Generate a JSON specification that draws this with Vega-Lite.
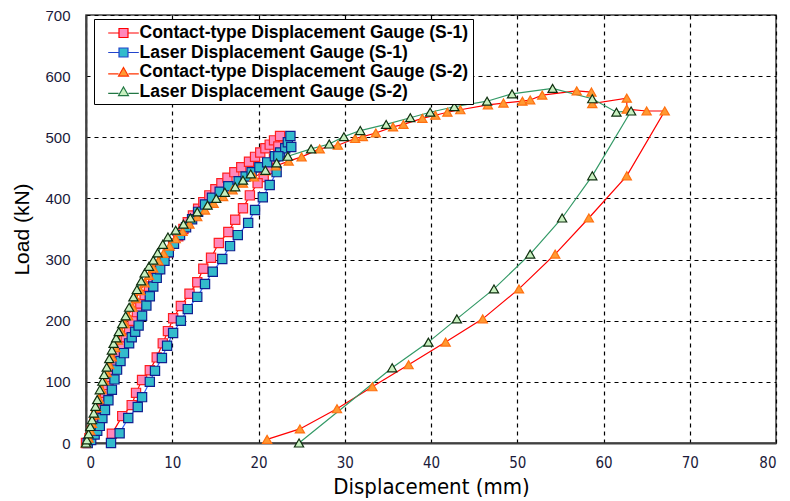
{
  "$schema": "https://vega.github.io/schema/vega-lite/v6.json",
  "width": 690,
  "height": 428,
  "autosize": {"type": "none"},
  "padding": {"left": 86, "top": 15, "right": 14, "bottom": 58},
  "background": "white",
  "config": {
    "view": {"stroke": "#404040", "strokeWidth": 1.5},
    "axis": {
      "grid": true,
      "gridColor": "black",
      "gridDash": [4, 4],
      "gridWidth": 1.2,
      "ticks": false,
      "domainColor": "#404040",
      "domainWidth": 2,
      "labelColor": "#1a1a3a",
      "titleColor": "black",
      "titleFontWeight": "normal"
    }
  },
  "datasets": {
    "curves": [
      {"s":"S1C","i":0,"x":0,"y":0},{"s":"S1C","i":1,"x":0.4,"y":8},{"s":"S1C","i":2,"x":0.7,"y":20},{"s":"S1C","i":3,"x":1.0,"y":33},{"s":"S1C","i":4,"x":1.3,"y":46},{"s":"S1C","i":5,"x":1.6,"y":58},{"s":"S1C","i":6,"x":1.9,"y":70},{"s":"S1C","i":7,"x":2.2,"y":82},{"s":"S1C","i":8,"x":2.5,"y":95},{"s":"S1C","i":9,"x":2.8,"y":108},{"s":"S1C","i":10,"x":3.1,"y":120},{"s":"S1C","i":11,"x":3.5,"y":134},{"s":"S1C","i":12,"x":3.8,"y":147},{"s":"S1C","i":13,"x":4.2,"y":160},{"s":"S1C","i":14,"x":4.6,"y":173},{"s":"S1C","i":15,"x":5.0,"y":186},{"s":"S1C","i":16,"x":5.4,"y":200},{"s":"S1C","i":17,"x":5.9,"y":214},{"s":"S1C","i":18,"x":6.3,"y":228},{"s":"S1C","i":19,"x":6.8,"y":242},{"s":"S1C","i":20,"x":7.3,"y":256},{"s":"S1C","i":21,"x":7.8,"y":270},{"s":"S1C","i":22,"x":8.3,"y":284},{"s":"S1C","i":23,"x":8.9,"y":298},{"s":"S1C","i":24,"x":9.5,"y":312},{"s":"S1C","i":25,"x":10.1,"y":326},{"s":"S1C","i":26,"x":10.7,"y":338},{"s":"S1C","i":27,"x":11.3,"y":350},{"s":"S1C","i":28,"x":11.8,"y":361},{"s":"S1C","i":29,"x":12.4,"y":372},{"s":"S1C","i":30,"x":13.0,"y":383},{"s":"S1C","i":31,"x":13.6,"y":394},{"s":"S1C","i":32,"x":14.3,"y":405},{"s":"S1C","i":33,"x":15.0,"y":415},{"s":"S1C","i":34,"x":15.7,"y":425},{"s":"S1C","i":35,"x":16.4,"y":434},{"s":"S1C","i":36,"x":17.2,"y":443},{"s":"S1C","i":37,"x":18.0,"y":451},{"s":"S1C","i":38,"x":18.9,"y":460},{"s":"S1C","i":39,"x":19.6,"y":468},{"s":"S1C","i":40,"x":20.2,"y":475},{"s":"S1C","i":41,"x":20.8,"y":482},{"s":"S1C","i":42,"x":21.3,"y":488},{"s":"S1C","i":43,"x":21.8,"y":495},{"s":"S1C","i":44,"x":22.5,"y":502},{"s":"S1C","i":45,"x":22.3,"y":485},{"s":"S1C","i":46,"x":21.8,"y":465},{"s":"S1C","i":47,"x":21.2,"y":448},{"s":"S1C","i":48,"x":20.6,"y":435},{"s":"S1C","i":49,"x":19.9,"y":425},{"s":"S1C","i":50,"x":19.0,"y":405},{"s":"S1C","i":51,"x":18.2,"y":384},{"s":"S1C","i":52,"x":17.3,"y":365},{"s":"S1C","i":53,"x":16.5,"y":345},{"s":"S1C","i":54,"x":15.4,"y":327},{"s":"S1C","i":55,"x":14.5,"y":303},{"s":"S1C","i":56,"x":13.6,"y":285},{"s":"S1C","i":57,"x":12.9,"y":263},{"s":"S1C","i":58,"x":12.0,"y":244},{"s":"S1C","i":59,"x":11.0,"y":224},{"s":"S1C","i":60,"x":10.1,"y":204},{"s":"S1C","i":61,"x":9.5,"y":183},{"s":"S1C","i":62,"x":8.9,"y":163},{"s":"S1C","i":63,"x":8.2,"y":140},{"s":"S1C","i":64,"x":7.4,"y":119},{"s":"S1C","i":65,"x":6.5,"y":103},{"s":"S1C","i":66,"x":5.8,"y":82},{"s":"S1C","i":67,"x":5.3,"y":62},{"s":"S1C","i":68,"x":4.2,"y":44},{"s":"S1C","i":69,"x":3.0,"y":15},

      {"s":"S1L","i":0,"x":0.2,"y":0},{"s":"S1L","i":1,"x":0.6,"y":5},{"s":"S1L","i":2,"x":1.0,"y":14},{"s":"S1L","i":3,"x":1.3,"y":20},{"s":"S1L","i":4,"x":1.6,"y":28},{"s":"S1L","i":5,"x":1.9,"y":41},{"s":"S1L","i":6,"x":2.2,"y":54},{"s":"S1L","i":7,"x":2.6,"y":70},{"s":"S1L","i":8,"x":3.0,"y":87},{"s":"S1L","i":9,"x":3.3,"y":104},{"s":"S1L","i":10,"x":3.6,"y":120},{"s":"S1L","i":11,"x":4.0,"y":134},{"s":"S1L","i":12,"x":4.4,"y":147},{"s":"S1L","i":13,"x":5.0,"y":163},{"s":"S1L","i":14,"x":5.3,"y":173},{"s":"S1L","i":15,"x":5.7,"y":182},{"s":"S1L","i":16,"x":6.1,"y":192},{"s":"S1L","i":17,"x":6.5,"y":208},{"s":"S1L","i":18,"x":7.0,"y":225},{"s":"S1L","i":19,"x":7.4,"y":240},{"s":"S1L","i":20,"x":7.8,"y":256},{"s":"S1L","i":21,"x":8.2,"y":270},{"s":"S1L","i":22,"x":8.6,"y":284},{"s":"S1L","i":23,"x":9.1,"y":298},{"s":"S1L","i":24,"x":9.6,"y":312},{"s":"S1L","i":25,"x":10.2,"y":326},{"s":"S1L","i":26,"x":10.9,"y":340},{"s":"S1L","i":27,"x":11.6,"y":353},{"s":"S1L","i":28,"x":12.3,"y":366},{"s":"S1L","i":29,"x":13.0,"y":378},{"s":"S1L","i":30,"x":13.8,"y":390},{"s":"S1L","i":31,"x":14.6,"y":401},{"s":"S1L","i":32,"x":15.5,"y":411},{"s":"S1L","i":33,"x":16.5,"y":420},{"s":"S1L","i":34,"x":17.7,"y":428},{"s":"S1L","i":35,"x":18.5,"y":436},{"s":"S1L","i":36,"x":19.2,"y":443},{"s":"S1L","i":37,"x":20.1,"y":451},{"s":"S1L","i":38,"x":21.0,"y":459},{"s":"S1L","i":39,"x":21.9,"y":469},{"s":"S1L","i":40,"x":22.5,"y":475},{"s":"S1L","i":41,"x":23.1,"y":482},{"s":"S1L","i":42,"x":23.4,"y":492},{"s":"S1L","i":43,"x":23.7,"y":502},{"s":"S1L","i":44,"x":23.8,"y":484},{"s":"S1L","i":45,"x":22.3,"y":469},{"s":"S1L","i":46,"x":22.1,"y":443},{"s":"S1L","i":47,"x":21.3,"y":422},{"s":"S1L","i":48,"x":20.5,"y":402},{"s":"S1L","i":49,"x":19.6,"y":381},{"s":"S1L","i":50,"x":18.8,"y":360},{"s":"S1L","i":51,"x":17.6,"y":340},{"s":"S1L","i":52,"x":16.7,"y":322},{"s":"S1L","i":53,"x":15.8,"y":301},{"s":"S1L","i":54,"x":14.7,"y":280},{"s":"S1L","i":55,"x":13.8,"y":260},{"s":"S1L","i":56,"x":12.9,"y":239},{"s":"S1L","i":57,"x":11.8,"y":219},{"s":"S1L","i":58,"x":11.0,"y":200},{"s":"S1L","i":59,"x":10.1,"y":180},{"s":"S1L","i":60,"x":9.4,"y":159},{"s":"S1L","i":61,"x":8.8,"y":139},{"s":"S1L","i":62,"x":8.0,"y":118},{"s":"S1L","i":63,"x":7.4,"y":100},{"s":"S1L","i":64,"x":6.5,"y":75},{"s":"S1L","i":65,"x":6.0,"y":59},{"s":"S1L","i":66,"x":4.9,"y":41},{"s":"S1L","i":67,"x":3.9,"y":16},{"s":"S1L","i":68,"x":2.9,"y":0},

      {"s":"S2C","i":0,"x":0,"y":0},{"s":"S2C","i":1,"x":0.3,"y":8},{"s":"S2C","i":2,"x":0.5,"y":20},{"s":"S2C","i":3,"x":0.7,"y":32},{"s":"S2C","i":4,"x":1.0,"y":46},{"s":"S2C","i":5,"x":1.2,"y":58},{"s":"S2C","i":6,"x":1.5,"y":72},{"s":"S2C","i":7,"x":1.8,"y":88},{"s":"S2C","i":8,"x":2.1,"y":102},{"s":"S2C","i":9,"x":2.4,"y":115},{"s":"S2C","i":10,"x":2.7,"y":128},{"s":"S2C","i":11,"x":3.0,"y":141},{"s":"S2C","i":12,"x":3.4,"y":156},{"s":"S2C","i":13,"x":3.7,"y":168},{"s":"S2C","i":14,"x":4.1,"y":182},{"s":"S2C","i":15,"x":4.5,"y":195},{"s":"S2C","i":16,"x":4.9,"y":208},{"s":"S2C","i":17,"x":5.4,"y":222},{"s":"S2C","i":18,"x":5.8,"y":236},{"s":"S2C","i":19,"x":6.3,"y":249},{"s":"S2C","i":20,"x":6.8,"y":262},{"s":"S2C","i":21,"x":7.3,"y":274},{"s":"S2C","i":22,"x":7.8,"y":286},{"s":"S2C","i":23,"x":8.4,"y":298},{"s":"S2C","i":24,"x":9.0,"y":310},{"s":"S2C","i":25,"x":9.7,"y":322},{"s":"S2C","i":26,"x":10.4,"y":334},{"s":"S2C","i":27,"x":11.2,"y":346},{"s":"S2C","i":28,"x":12.0,"y":358},{"s":"S2C","i":29,"x":12.9,"y":370},{"s":"S2C","i":30,"x":13.8,"y":381},{"s":"S2C","i":31,"x":14.8,"y":392},{"s":"S2C","i":32,"x":15.9,"y":403},{"s":"S2C","i":33,"x":17.0,"y":414},{"s":"S2C","i":34,"x":18.2,"y":425},{"s":"S2C","i":35,"x":19.5,"y":435},{"s":"S2C","i":36,"x":20.8,"y":445},{"s":"S2C","i":37,"x":22.0,"y":453},{"s":"S2C","i":38,"x":23.5,"y":461},{"s":"S2C","i":39,"x":25.0,"y":468},{"s":"S2C","i":40,"x":27.1,"y":481},{"s":"S2C","i":41,"x":29.2,"y":487},{"s":"S2C","i":42,"x":31.2,"y":498},{"s":"S2C","i":43,"x":32.1,"y":501},{"s":"S2C","i":44,"x":33.6,"y":507},{"s":"S2C","i":45,"x":35.6,"y":517},{"s":"S2C","i":46,"x":36.8,"y":521},{"s":"S2C","i":47,"x":39.0,"y":531},{"s":"S2C","i":48,"x":40.5,"y":536},{"s":"S2C","i":49,"x":41.9,"y":541},{"s":"S2C","i":50,"x":43.4,"y":545},{"s":"S2C","i":51,"x":46.6,"y":553},{"s":"S2C","i":52,"x":48.4,"y":556},{"s":"S2C","i":53,"x":50.6,"y":559},{"s":"S2C","i":54,"x":51.5,"y":561},{"s":"S2C","i":55,"x":52.9,"y":569},{"s":"S2C","i":56,"x":56.9,"y":576},{"s":"S2C","i":57,"x":58.6,"y":574},{"s":"S2C","i":58,"x":58.7,"y":555},{"s":"S2C","i":59,"x":62.7,"y":564},{"s":"S2C","i":60,"x":62.7,"y":546},{"s":"S2C","i":61,"x":65.0,"y":543},{"s":"S2C","i":62,"x":67.1,"y":543},{"s":"S2C","i":63,"x":62.7,"y":437},{"s":"S2C","i":64,"x":58.3,"y":368},{"s":"S2C","i":65,"x":54.4,"y":309},{"s":"S2C","i":66,"x":50.2,"y":252},{"s":"S2C","i":67,"x":46.0,"y":203},{"s":"S2C","i":68,"x":41.7,"y":165},{"s":"S2C","i":69,"x":37.4,"y":128},{"s":"S2C","i":70,"x":33.2,"y":92},{"s":"S2C","i":71,"x":29.1,"y":56},{"s":"S2C","i":72,"x":24.8,"y":23},{"s":"S2C","i":73,"x":21.0,"y":6},

      {"s":"S2L","i":0,"x":0,"y":0},{"s":"S2L","i":1,"x":0.1,"y":5},{"s":"S2L","i":2,"x":0.3,"y":15},{"s":"S2L","i":3,"x":0.5,"y":27},{"s":"S2L","i":4,"x":0.7,"y":38},{"s":"S2L","i":5,"x":0.9,"y":49},{"s":"S2L","i":6,"x":1.1,"y":60},{"s":"S2L","i":7,"x":1.3,"y":71},{"s":"S2L","i":8,"x":1.6,"y":87},{"s":"S2L","i":9,"x":1.9,"y":101},{"s":"S2L","i":10,"x":2.1,"y":112},{"s":"S2L","i":11,"x":2.4,"y":124},{"s":"S2L","i":12,"x":2.7,"y":138},{"s":"S2L","i":13,"x":3.0,"y":152},{"s":"S2L","i":14,"x":3.2,"y":163},{"s":"S2L","i":15,"x":3.5,"y":172},{"s":"S2L","i":16,"x":3.8,"y":182},{"s":"S2L","i":17,"x":4.2,"y":195},{"s":"S2L","i":18,"x":4.6,"y":208},{"s":"S2L","i":19,"x":5.0,"y":222},{"s":"S2L","i":20,"x":5.5,"y":239},{"s":"S2L","i":21,"x":5.9,"y":251},{"s":"S2L","i":22,"x":6.4,"y":265},{"s":"S2L","i":23,"x":6.8,"y":278},{"s":"S2L","i":24,"x":7.3,"y":289},{"s":"S2L","i":25,"x":7.8,"y":299},{"s":"S2L","i":26,"x":8.3,"y":311},{"s":"S2L","i":27,"x":8.9,"y":325},{"s":"S2L","i":28,"x":9.5,"y":337},{"s":"S2L","i":29,"x":10.4,"y":348},{"s":"S2L","i":30,"x":11.3,"y":358},{"s":"S2L","i":31,"x":12.1,"y":368},{"s":"S2L","i":32,"x":12.9,"y":378},{"s":"S2L","i":33,"x":14.1,"y":389},{"s":"S2L","i":34,"x":15.1,"y":400},{"s":"S2L","i":35,"x":16.1,"y":410},{"s":"S2L","i":36,"x":17.3,"y":419},{"s":"S2L","i":37,"x":18.2,"y":430},{"s":"S2L","i":38,"x":19.1,"y":440},{"s":"S2L","i":39,"x":20.8,"y":446},{"s":"S2L","i":40,"x":22.1,"y":458},{"s":"S2L","i":41,"x":23.4,"y":469},{"s":"S2L","i":42,"x":26.1,"y":481},{"s":"S2L","i":43,"x":28.2,"y":489},{"s":"S2L","i":44,"x":29.9,"y":501},{"s":"S2L","i":45,"x":31.8,"y":511},{"s":"S2L","i":46,"x":34.8,"y":521},{"s":"S2L","i":47,"x":37.6,"y":532},{"s":"S2L","i":48,"x":39.9,"y":541},{"s":"S2L","i":49,"x":42.7,"y":550},{"s":"S2L","i":50,"x":46.5,"y":559},{"s":"S2L","i":51,"x":49.4,"y":571},{"s":"S2L","i":52,"x":54.1,"y":580},{"s":"S2L","i":53,"x":58.7,"y":563},{"s":"S2L","i":54,"x":61.5,"y":541},{"s":"S2L","i":55,"x":63.2,"y":543},{"s":"S2L","i":56,"x":58.7,"y":437},{"s":"S2L","i":57,"x":55.2,"y":368},{"s":"S2L","i":58,"x":51.5,"y":309},{"s":"S2L","i":59,"x":47.3,"y":252},{"s":"S2L","i":60,"x":43.0,"y":203},{"s":"S2L","i":61,"x":39.7,"y":165},{"s":"S2L","i":62,"x":35.5,"y":123},{"s":"S2L","i":63,"x":24.7,"y":0}
    ]
  },
  "data": {"name": "curves"},
  "encoding": {
    "x": {
      "field": "x", "type": "quantitative",
      "scale": {"domain": [0, 80], "nice": false},
      "axis": {
        "values": [0, 10, 20, 30, 40, 50, 60, 70, 80],
        "title": "Displacement (mm)",
        "labelFont": "Liberation Sans Narrow, DejaVu Sans Condensed, sans-serif",
        "labelFontSize": 15,
        "labelPadding": 12,
        "titleFont": "Liberation Sans Narrow, DejaVu Sans Condensed, sans-serif",
        "titleFontSize": 22,
        "titlePadding": 6
      }
    },
    "y": {
      "field": "y", "type": "quantitative",
      "scale": {"domain": [0, 700], "nice": false},
      "axis": {
        "values": [0, 100, 200, 300, 400, 500, 600, 700],
        "title": "Load (kN)",
        "labelFont": "Liberation Sans, Arial, sans-serif",
        "labelFontSize": 15,
        "labelPadding": 16,
        "titleFont": "Liberation Sans, Arial, sans-serif",
        "titleFontSize": 21,
        "titlePadding": 12
      }
    }
  },
  "layer": [
    {
      "mark": {"type": "line", "strokeWidth": 1.2},
      "encoding": {
        "detail": {"field": "s"},
        "order": {"field": "i", "type": "quantitative"},
        "stroke": {
          "field": "s", "type": "nominal",
          "scale": {"domain": ["S1C", "S1L", "S2C", "S2L"], "range": ["#FF0000", "#3366FF", "#FF0000", "#339966"]},
          "legend": null
        }
      }
    },
    {
      "mark": {"type": "point", "filled": true, "strokeWidth": 1.2, "opacity": 1},
      "encoding": {
        "shape": {
          "field": "s", "type": "nominal",
          "scale": {"domain": ["S1C", "S1L", "S2C", "S2L"], "range": ["square", "square", "triangle-up", "triangle-up"]},
          "legend": null
        },
        "size": {
          "field": "s", "type": "nominal",
          "scale": {"domain": ["S1C", "S1L", "S2C", "S2L"], "range": [85, 85, 90, 90]},
          "legend": null
        },
        "fill": {
          "field": "s", "type": "nominal",
          "scale": {"domain": ["S1C", "S1L", "S2C", "S2L"], "range": ["#FF88BB", "#33BBCC", "#FF9933", "#C8F0C0"]},
          "legend": null
        },
        "stroke": {
          "field": "s", "type": "nominal",
          "scale": {"domain": ["S1C", "S1L", "S2C", "S2L"], "range": ["#FF2020", "#102090", "#FF7010", "#103010"]},
          "legend": null
        }
      }
    },
    {
      "mark": {"type": "point", "filled": true, "strokeWidth": 1.2, "opacity": 0, "size": 324},
      "encoding": {
        "shape": {
          "field": "s", "type": "nominal",
          "scale": {"domain": ["S1C", "S1L", "S2C", "S2L"], "range": [
            "M-1.7,0H-0.5M0.5,0H1.7M-0.5,-0.5H0.5V0.5H-0.5Z",
            "M-1.7,0H-0.5M0.5,0H1.7M-0.5,-0.5H0.5V0.5H-0.5Z",
            "M-1.7,0.2H-0.55M0.55,0.2H1.7M0,-0.5L0.55,0.45H-0.55Z",
            "M-1.7,0.2H-0.55M0.55,0.2H1.7M0,-0.5L0.55,0.45H-0.55Z"
          ]},
          "legend": {
            "title": null,
            "orient": "none",
            "legendX": 8,
            "legendY": 4,
            "fillColor": "white",
            "strokeColor": "black",
            "padding": 4,
            "symbolSize": 324,
            "symbolOpacity": 1,
            "symbolStrokeWidth": 1.2,
            "symbolOffset": 15.5,
            "labelFont": "Liberation Sans, Arial, sans-serif",
            "labelFontSize": 17.5,
            "labelFontWeight": "bold",
            "labelColor": "black",
            "labelOffset": 6,
            "rowPadding": 0.5,
            "labelLimit": 500,
            "labelExpr": "datum.value === 'S1C' ? 'Contact-type Displacement Gauge (S-1)' : datum.value === 'S1L' ? 'Laser Displacement Gauge (S-1)' : datum.value === 'S2C' ? 'Contact-type Displacement Gauge (S-2)' : 'Laser Displacement Gauge (S-2)'"
          }
        },
        "fill": {
          "field": "s", "type": "nominal",
          "scale": {"domain": ["S1C", "S1L", "S2C", "S2L"], "range": ["#FF88BB", "#33BBCC", "#FF9933", "#C8F0C0"]}
        },
        "stroke": {
          "field": "s", "type": "nominal",
          "scale": {"domain": ["S1C", "S1L", "S2C", "S2L"], "range": ["#FF0000", "#2244CC", "#FF3300", "#227744"]}
        }
      }
    }
  ],
  "resolve": {"scale": {"stroke": "independent", "shape": "independent", "fill": "independent", "size": "independent"}, "legend": {"shape": "independent"}}
}
